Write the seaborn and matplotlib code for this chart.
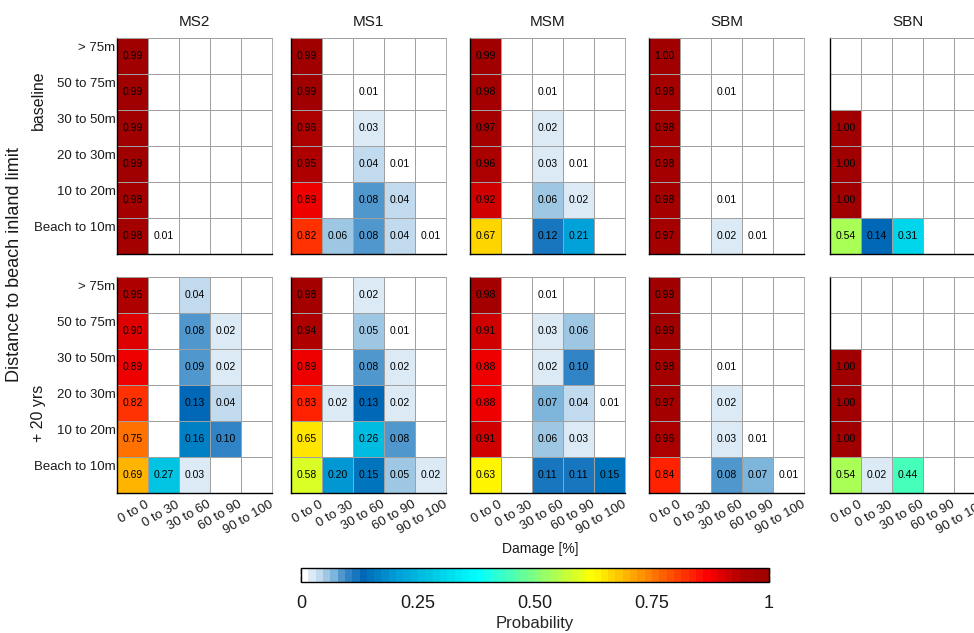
import numpy as np
import pandas as pd
import seaborn as sns
import matplotlib.pyplot as plt
from matplotlib.colors import LinearSegmentedColormap, ListedColormap

sns.set_style('white')
plt.rcParams['font.family'] = ['Liberation Sans', 'DejaVu Sans']
plt.rcParams['text.color'] = '#1a1a1a'
plt.rcParams['xtick.color'] = '#1a1a1a'
plt.rcParams['ytick.color'] = '#1a1a1a'

distance = ['> 75m', '50 to 75m', '30 to 50m', '20 to 30m', '10 to 20m', 'Beach to 10m']
damage = ['0 to 0', '0 to 30', '30 to 60', '60 to 90', '90 to 100']
models = ['MS2', 'MS1', 'MSM', 'SBM', 'SBN']
scenarios = ['baseline', '+ 20 yrs']
nan = np.nan

# baseline
ms2_base = [[0.99, 0, 0, 0, 0],
            [0.99, 0, 0, 0, 0],
            [0.99, 0, 0, 0, 0],
            [0.99, 0, 0, 0, 0],
            [0.98, 0, 0, 0, 0],
            [0.98, 0.01, 0, 0, 0]]
ms1_base = [[0.99, 0, 0, 0, 0],
            [0.99, 0, 0.01, 0, 0],
            [0.96, 0, 0.03, 0, 0],
            [0.95, 0, 0.04, 0.01, 0],
            [0.89, 0, 0.08, 0.04, 0],
            [0.82, 0.06, 0.08, 0.04, 0.01]]
msm_base = [[0.99, 0, 0, 0, 0],
            [0.98, 0, 0.01, 0, 0],
            [0.97, 0, 0.02, 0, 0],
            [0.96, 0, 0.03, 0.01, 0],
            [0.92, 0, 0.06, 0.02, 0],
            [0.67, 0, 0.12, 0.21, 0]]
sbm_base = [[1.00, 0, 0, 0, 0],
            [0.98, 0, 0.01, 0, 0],
            [0.98, 0, 0, 0, 0],
            [0.98, 0, 0, 0, 0],
            [0.98, 0, 0.01, 0, 0],
            [0.97, 0, 0.02, 0.01, 0]]
sbn_base = [[nan, nan, nan, nan, nan],
            [nan, nan, nan, nan, nan],
            [1.00, 0, 0, 0, 0],
            [1.00, 0, 0, 0, 0],
            [1.00, 0, 0, 0, 0],
            [0.54, 0.14, 0.31, 0, 0]]

# + 20 yrs
ms2_20 = [[0.95, 0, 0.04, 0, 0],
          [0.90, 0, 0.08, 0.02, 0],
          [0.89, 0, 0.09, 0.02, 0],
          [0.82, 0, 0.13, 0.04, 0],
          [0.75, 0, 0.16, 0.10, 0],
          [0.69, 0.27, 0.03, 0, 0]]
ms1_20 = [[0.98, 0, 0.02, 0, 0],
          [0.94, 0, 0.05, 0.01, 0],
          [0.89, 0, 0.08, 0.02, 0],
          [0.83, 0.02, 0.13, 0.02, 0],
          [0.65, 0, 0.26, 0.08, 0],
          [0.58, 0.20, 0.15, 0.05, 0.02]]
msm_20 = [[0.98, 0, 0.01, 0, 0],
          [0.91, 0, 0.03, 0.06, 0],
          [0.88, 0, 0.02, 0.10, 0],
          [0.88, 0, 0.07, 0.04, 0.01],
          [0.91, 0, 0.06, 0.03, 0],
          [0.63, 0, 0.11, 0.11, 0.15]]
sbm_20 = [[0.99, 0, 0, 0, 0],
          [0.99, 0, 0, 0, 0],
          [0.98, 0, 0.01, 0, 0],
          [0.97, 0, 0.02, 0, 0],
          [0.96, 0, 0.03, 0.01, 0],
          [0.84, 0, 0.08, 0.07, 0.01]]
sbn_20 = [[nan, nan, nan, nan, nan],
          [nan, nan, nan, nan, nan],
          [1.00, 0, 0, 0, 0],
          [1.00, 0, 0, 0, 0],
          [1.00, 0, 0, 0, 0],
          [0.54, 0.02, 0.44, 0, 0]]

panels = [[ms2_base, ms1_base, msm_base, sbm_base, sbn_base],
          [ms2_20, ms1_20, msm_20, sbm_20, sbn_20]]

# white -> blues -> jet-like, 64 steps
anchors = [(0.0, '#ffffff'), (0.008, '#ffffff'), (0.016, '#dbe9f6'),
           (0.032, '#c0d9ed'), (0.048, '#9cc6e3'), (0.064, '#7ab4da'),
           (0.08, '#4a94cc'), (0.096, '#2c82c5'), (0.125, '#0068b6'),
           (0.2, '#00a0d8'), (0.27, '#00c4e2'), (0.375, '#00ffff'),
           (0.625, '#ffff00'), (0.875, '#ff0000'), (0.95, '#b00000'),
           (1.0, '#a00000')]
base = LinearSegmentedColormap.from_list('prob', anchors)
cmap = ListedColormap(base(np.linspace(0, 1, 64)))

W, H = 974, 633
fig = plt.figure(figsize=(W / 100, H / 100), dpi=100)

col_left = [117, 291, 470, 649, 830]
row_top = [38, 277]
pw, ph = 155, 216

cax = fig.add_axes([301 / W, 1 - 582 / H, 468 / W, 14 / H])

for r in range(2):
    for c in range(5):
        ax = fig.add_axes([col_left[c] / W, 1 - (row_top[r] + ph) / H, pw / W, ph / H])
        arr = np.array(panels[r][c], dtype=float)
        df = pd.DataFrame(np.nan_to_num(arr), index=distance, columns=damage)
        labels = np.where(arr > 0, np.vectorize(lambda v: f'{v:.2f}')(np.nan_to_num(arr)), '')
        first = (r == 0 and c == 0)
        sns.heatmap(df, ax=ax, cmap=cmap, vmin=0, vmax=1, annot=labels, fmt='',
                    annot_kws=dict(fontsize=7.5, color='black'),
                    linewidths=0.6, linecolor='#a0a0a0',
                    cbar=first, cbar_ax=cax if first else None,
                    cbar_kws=dict(orientation='horizontal', ticks=[0, 0.25, 0.5, 0.75, 1]))
        for side in ['left', 'bottom']:
            ax.spines[side].set_visible(True)
            ax.spines[side].set_color('black')
            ax.spines[side].set_linewidth(1.0)
        for side in ['top', 'right']:
            ax.spines[side].set_visible(True)
            ax.spines[side].set_color('#a0a0a0')
            ax.spines[side].set_linewidth(0.6)
        ax.set_xlabel('')
        ax.set_ylabel('')
        ax.tick_params(length=0)
        if c == 0:
            ax.set_yticks(np.arange(6) + 0.27)
            ax.set_yticklabels(distance, rotation=0, fontsize=9.5)
            ax.tick_params(axis='y', pad=1)
        else:
            ax.set_yticks([])
        if r == 1:
            ax.set_xticks(np.arange(5) + 0.9)
            ax.set_xticklabels(damage, rotation=30, ha='right', rotation_mode='anchor', fontsize=9.5)
            ax.tick_params(axis='x', pad=4)
        else:
            ax.set_xticks([])
            ax.set_title(models[c], fontsize=11, pad=9)

cb = fig.axes[1].collections[0].colorbar
cb.outline.set_linewidth(1)
cb.outline.set_edgecolor('black')
cb.ax.set_xticklabels(['0', '0.25', '0.50', '0.75', '1'])
cb.ax.tick_params(direction='in', length=4, width=1, top=True, bottom=True,
                  labelsize=13, pad=9, color='black')
cb.set_label('Probability', fontsize=12, labelpad=3)

fig.text(540 / W, 1 - 549 / H, 'Damage [%]', fontsize=10, ha='center', va='center')
fig.text(38 / W, 1 - 100 / H, scenarios[0], fontsize=11.5, rotation=90, ha='center', va='center')
fig.text(38 / W, 1 - 413 / H, scenarios[1], fontsize=11.5, rotation=90, ha='center', va='center')
fig.text(15 / W, 1 - 265 / H, 'Distance to beach inland limit', fontsize=13,
         rotation=90, ha='center', va='center')

fig.savefig('out.png', dpi=100)
